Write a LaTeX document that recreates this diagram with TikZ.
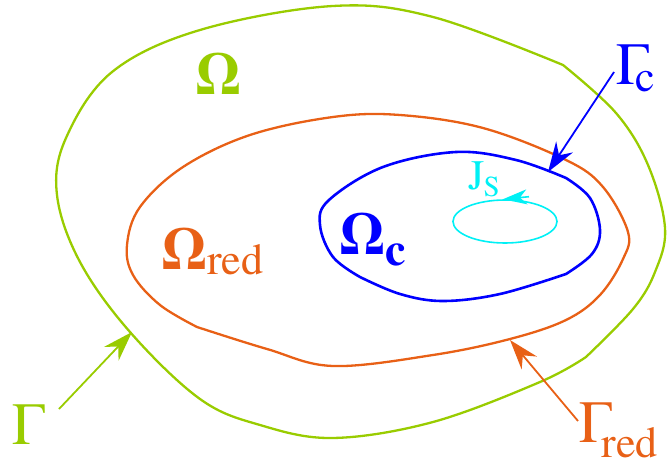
\documentclass[tikz,border=0pt]{standalone}
\usepackage{fontspec}
\setmainfont{TeX Gyre Termes}
\usetikzlibrary{arrows.meta,shapes.geometric}
\definecolor{cgreen}{RGB}{153,204,0}
\definecolor{corange}{RGB}{232,96,22}
\definecolor{cblue}{RGB}{0,0,255}
\definecolor{ccyan}{RGB}{0,240,245}
\tikzset{
  curve/.style={line width=2.3pt, line join=round},
  ptr/.style={line width=1.8pt, -{Stealth[length=30pt,width=20pt,inset=10pt]}},
  lbl/.style={inner sep=0pt, anchor=base west},
}
\newcommand{\mybig}[1]{{\fontsize{60}{60}\selectfont #1}}
\newcommand{\mysub}[1]{{\fontsize{44}{44}\selectfont #1}}
\begin{document}
\begin{tikzpicture}[x=1pt,y=-1pt]
\useasboundingbox (0,0) rectangle (667,465);
% outer domain Omega (green)
\draw[curve, cgreen]
  plot[smooth, tension=0.6] coordinates {(563,65) (616,113) (648,165) (665,228) (655,272) (633,309) (586,357)}
  -- plot[smooth, tension=0.6] coordinates {(586,357) (540,382) (433,422) (333,438) (260,425) (200,399) (130,332) (80,262) (57,195) (66,138) (112,72) (200,30) (333,6) (433,17) (563,65)}
  -- cycle;
% reduced domain (orange)
\draw[curve, corange]
  plot[smooth, tension=0.6] coordinates {(197,327) (267,349) (333,366) (433,355) (510,339) (566,320) (600,295) (623,259) (628,232) (603,187) (566,160) (483,128) (400,115) (333,117) (250,135) (183,167) (140,207) (127,245) (133,275) (160,305) (197,327)}
  -- cycle;
% conductor (blue)
\draw[curve, cblue, line width=2.6pt]
  plot[smooth, tension=0.6] coordinates {(566,178) (590,198) (600,230) (592,254) (566,274)}
  -- plot[smooth, tension=0.6] coordinates {(566,274) (500,294) (443,301) (400,294) (360,277)}
  -- plot[smooth, tension=0.6] coordinates {(360,277) (333,257) (320,225) (329,200) (383,167) (456,152) (516,160) (566,178)}
  -- cycle;
% source current loop
\node[draw=ccyan, line width=1.6pt, ellipse, minimum width=104pt, minimum height=43pt, inner sep=0pt] (js) at (505,221.5) {};
\draw[ccyan, line width=1.6pt, -{Stealth[length=24pt,width=15pt,inset=7pt]}] ([xshift=24pt,yshift=2.5pt]js.north) -- ([xshift=-2pt]js.north);

% labels
\node[lbl, text=cgreen] (om) at (195,95) {\mybig{\bfseries Ω}};
\node[lbl, text=corange] (omred) at (161,270) {\mybig{\bfseries Ω}\raisebox{-5pt}{\mysub{red}}};
\node[lbl, text=cblue] (omc) at (339,255) {\mybig{\bfseries Ω}\raisebox{-10pt}{{\fontsize{46}{46}\selectfont\bfseries c}}};
\node[lbl, text=ccyan] (jlbl) at (468,190) {{\fontsize{42}{42}\selectfont J}\kern-1pt\raisebox{-7pt}{{\fontsize{29}{29}\selectfont S}}};
\node[lbl, text=cblue] (gc) at (616,85) {\mybig{Γ}\kern-14pt\raisebox{-7pt}{\mysub{c}}};
\node[lbl, text=cgreen] (g) at (12,444) {\mybig{Γ}};
\node[lbl, text=corange] (gred) at (579,442) {\mybig{Γ}\kern-11pt\raisebox{-15pt}{\mysub{red}}};

% pointers
\coordinate (gtail) at (59,409);
\coordinate (gtip) at (132,332);
\coordinate (rtail) at (578,421);
\coordinate (rtip) at (510,340);
\coordinate (ctail) at (614,72);
\coordinate (ctip) at (548,172);
\draw[ptr, cgreen] (gtail) -- (gtip);
\draw[ptr, corange] (rtail) -- (rtip);
\draw[ptr, cblue] (ctail) -- (ctip);
\end{tikzpicture}
\end{document}
